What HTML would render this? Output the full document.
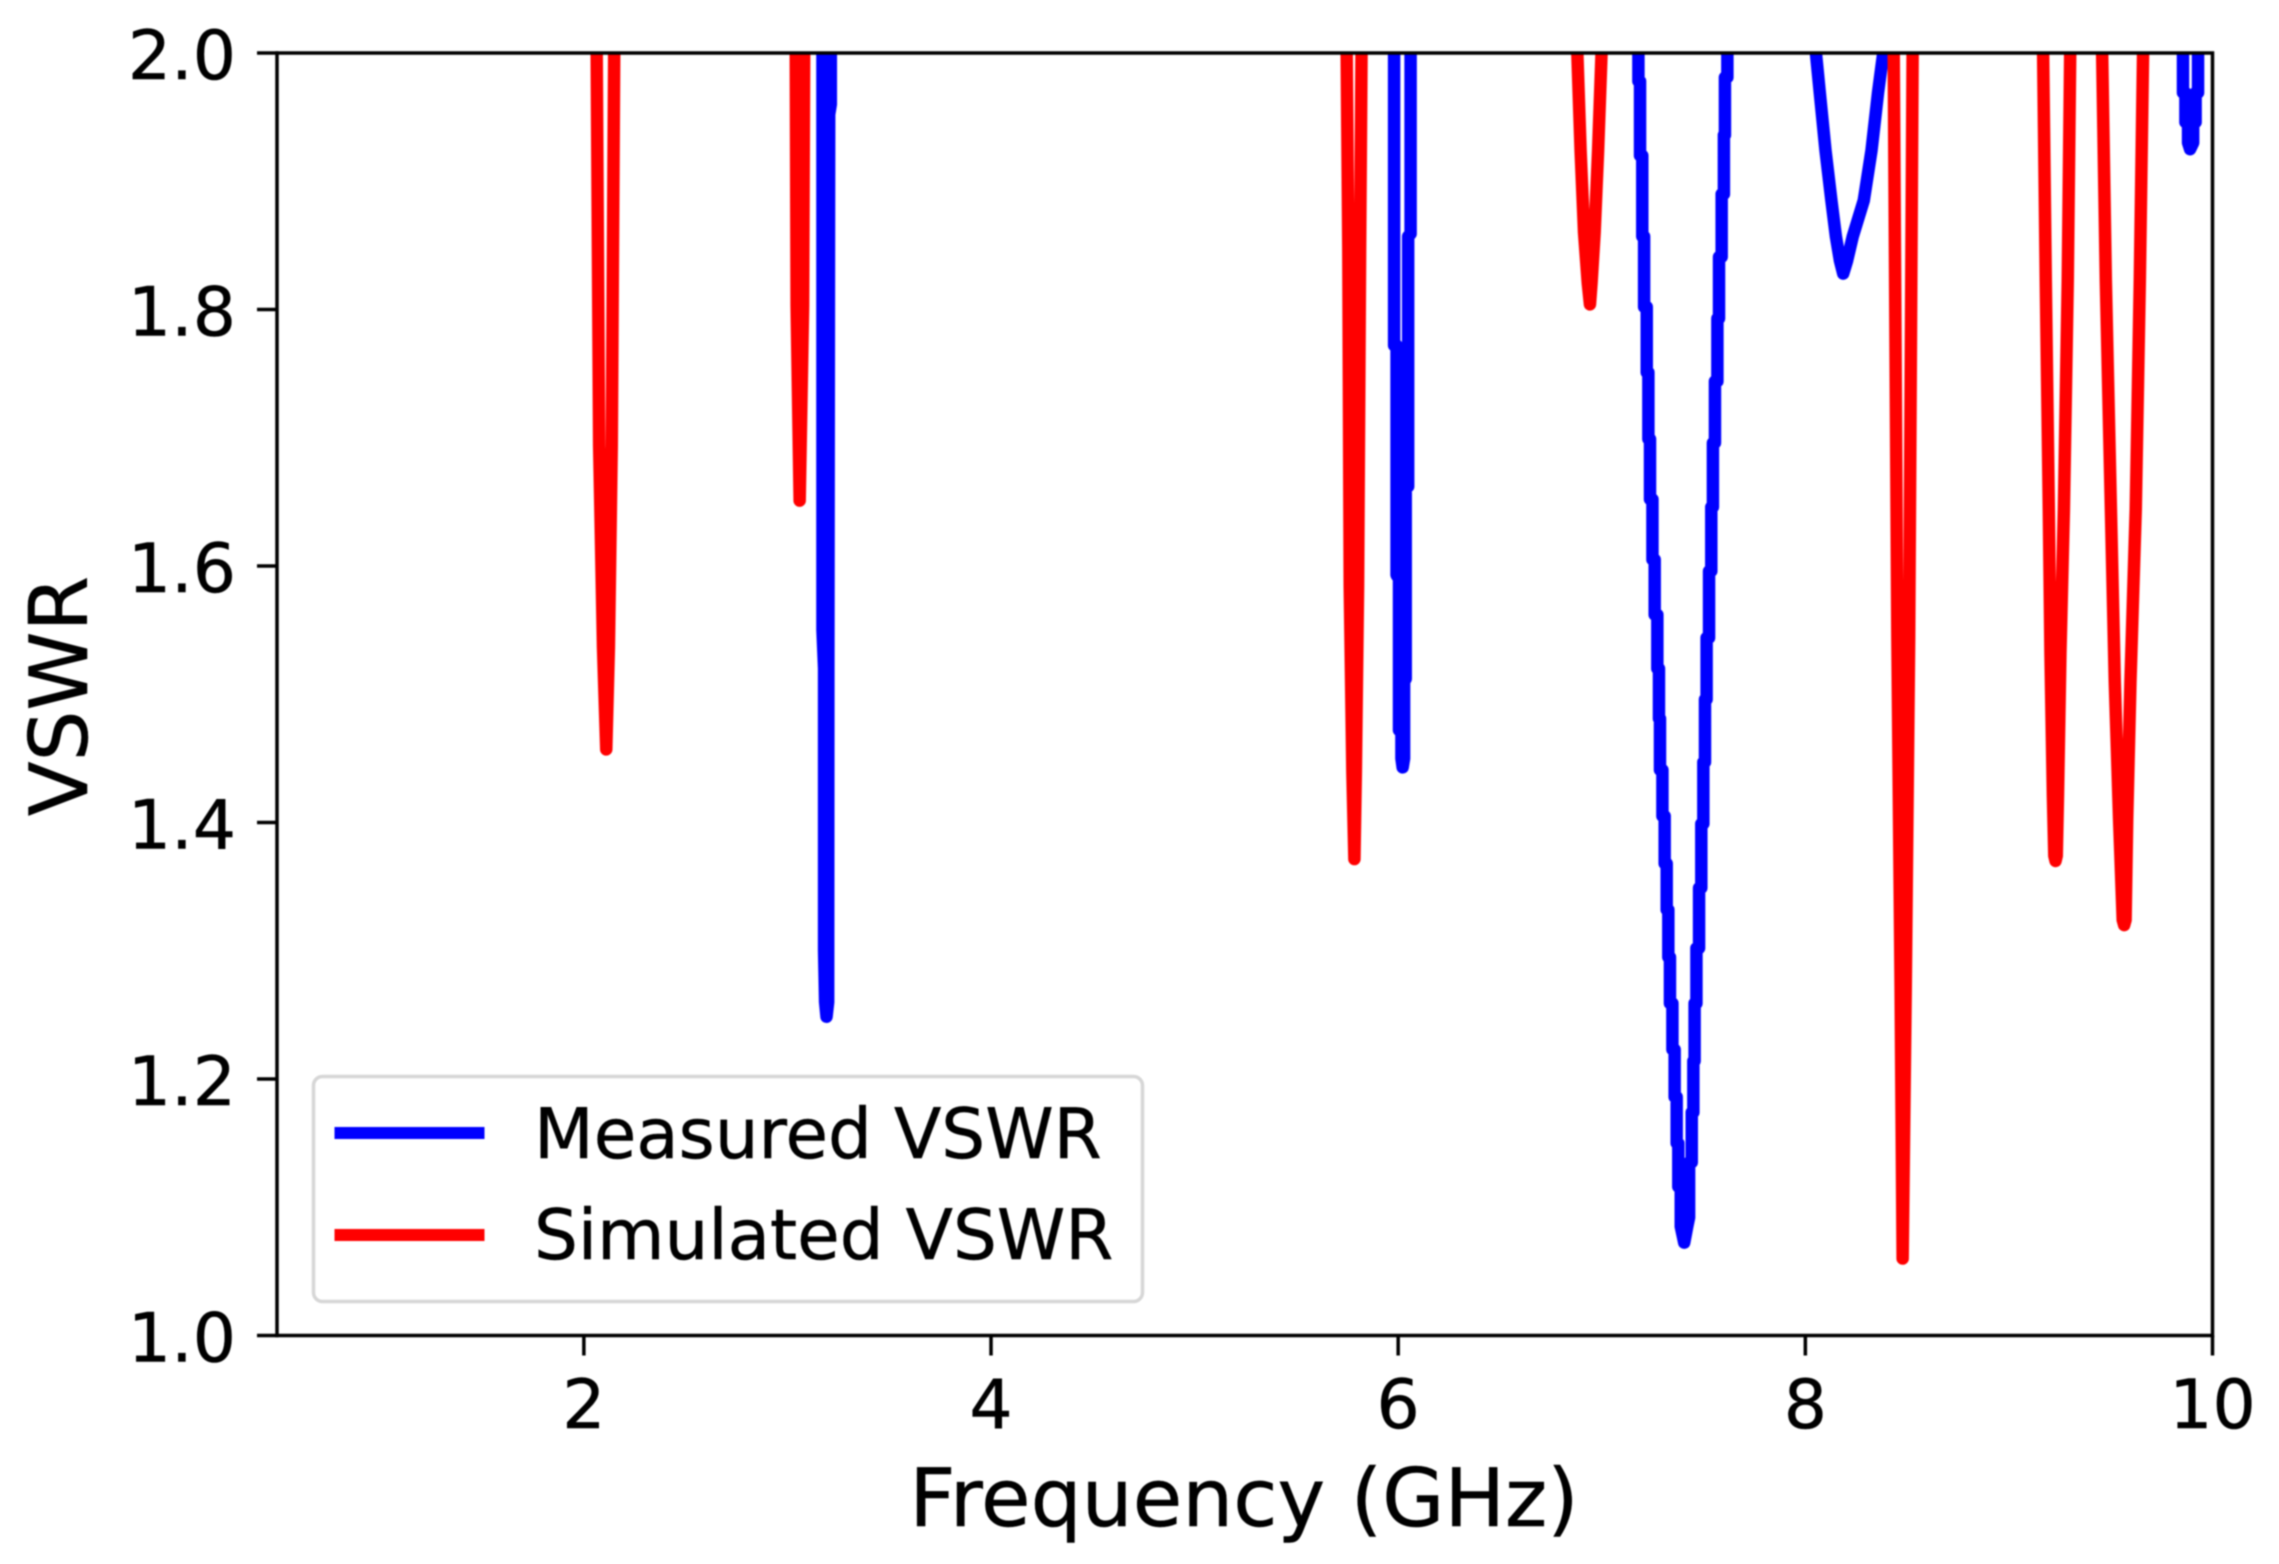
<!DOCTYPE html>
<html lang="en">
<head>
<meta charset="utf-8">
<title>VSWR vs Frequency</title>
<style>
  html, body { margin: 0; padding: 0; background: #fff; }
  body { width: 2279px; height: 1564px; overflow: hidden; }
  svg { display: block; font-family: "DejaVu Sans", "Liberation Sans", sans-serif; filter: blur(0.7px); }
  text { stroke: #000; stroke-width: 0.5px; }
</style>
</head>
<body>
<svg id="chart" xmlns="http://www.w3.org/2000/svg" width="2279" height="1564" viewBox="0 0 2279 1564">
  <rect x="0" y="0" width="2279" height="1564" fill="#ffffff"/>
  <defs>
    <clipPath id="plot-clip"><rect x="278.5" y="53" width="1934" height="1282.5"/></clipPath>
  </defs>
  <g id="series" clip-path="url(#plot-clip)"></g>
  <g id="axes"></g>
  <text x="1244" y="1526" font-size="80.5" text-anchor="middle" fill="#000">Frequency (GHz)</text>
  <text x="0" y="0" transform="translate(87 696) rotate(-90)" font-size="80" text-anchor="middle" fill="#000">VSWR</text>
  <g>
    <rect x="313.5" y="1076.5" width="829" height="225" rx="9" ry="9" fill="#ffffff" fill-opacity="0.8" stroke="#d6d6d6" stroke-width="3.5"/>
    <line x1="334.5" y1="1133" x2="484.5" y2="1133" stroke="#0000ff" stroke-width="12"/>
    <text x="534" y="1158" font-size="69.2" fill="#000">Measured VSWR</text>
    <line x1="334.5" y1="1235" x2="484.5" y2="1235" stroke="#ff0000" stroke-width="12"/>
    <text x="534" y="1259" font-size="69.2" fill="#000">Simulated VSWR</text>
  </g>
</svg>
<script>
const xTicks = [2, 4, 6, 8, 10];
const xTickLabels = ["2", "4", "6", "8", "10"];
const yTicks = [1.0, 1.2, 1.4, 1.6, 1.8, 2.0];
const yTickLabels = ["1.0", "1.2", "1.4", "1.6", "1.8", "2.0"];

const measuredFreq = [
  0.5, 3.168, 3.172, 3.172, 3.180, 3.180, 3.185, 3.192, 3.200, 3.201, 3.205, 3.213, 3.213, 3.218,
  5.975, 5.980, 5.980, 5.992, 5.992, 6.004, 6.004, 6.016, 6.016, 6.022, 6.029, 6.029, 6.037, 6.037, 6.049, 6.049, 6.061, 6.061, 6.065,
  7.175, 7.180, 7.180, 7.188, 7.188, 7.199, 7.199, 7.208, 7.208, 7.221, 7.221, 7.229, 7.229, 7.237, 7.237, 7.249, 7.249, 7.260, 7.260, 7.273, 7.273, 7.281, 7.281, 7.286, 7.286, 7.298, 7.298, 7.309, 7.309, 7.319, 7.319, 7.327, 7.327, 7.335, 7.335, 7.347, 7.347, 7.358, 7.358, 7.368, 7.368, 7.376, 7.376, 7.388, 7.388,
  7.405,
  7.420, 7.429, 7.429, 7.442, 7.442, 7.450, 7.450, 7.456, 7.456, 7.465, 7.465, 7.478, 7.478, 7.489, 7.489, 7.499, 7.499, 7.507, 7.507, 7.515, 7.515, 7.527, 7.527, 7.538, 7.538, 7.546, 7.546, 7.556, 7.556, 7.568, 7.568, 7.576, 7.576, 7.589, 7.589, 7.600, 7.600, 7.605, 7.605, 7.617, 7.617, 7.62,
  8.045, 8.052, 8.071, 8.099, 8.128, 8.150, 8.170, 8.186, 8.205, 8.233, 8.287, 8.325, 8.357, 8.381, 8.39,
  9.85, 9.855, 9.855, 9.867, 9.867, 9.880, 9.880, 9.890, 9.905, 9.905, 9.917, 9.917, 9.929, 9.929, 9.935, 10
];
const measuredVswr = [
  2.5, 2.15, 2.0, 1.55, 1.52, 1.30, 1.26, 1.2485, 1.26, 1.52, 1.952, 1.96, 2.0, 2.15,
  2.15, 2.0, 1.772, 1.772, 1.593, 1.59, 1.472, 1.47, 1.45, 1.443, 1.45, 1.510, 1.512, 1.660, 1.662, 1.857, 1.859, 2.0, 2.15,
  2.15, 2.0, 1.978, 1.978, 1.920, 1.920, 1.857, 1.857, 1.802, 1.802, 1.751, 1.751, 1.699, 1.699, 1.652, 1.652, 1.605, 1.605, 1.562, 1.562, 1.520, 1.520, 1.481, 1.481, 1.441, 1.441, 1.405, 1.405, 1.368, 1.368, 1.332, 1.332, 1.295, 1.295, 1.259, 1.259, 1.223, 1.223, 1.186, 1.186, 1.150, 1.150, 1.116, 1.116, 1.085,
  1.0724,
  1.085, 1.092, 1.135, 1.135, 1.174, 1.174, 1.214, 1.214, 1.259, 1.259, 1.302, 1.302, 1.349, 1.349, 1.399, 1.399, 1.447, 1.447, 1.496, 1.496, 1.544, 1.544, 1.596, 1.596, 1.646, 1.646, 1.696, 1.696, 1.744, 1.744, 1.793, 1.793, 1.841, 1.841, 1.890, 1.890, 1.936, 1.936, 1.981, 1.981, 2.0, 2.15,
  2.15, 2.0, 1.969, 1.924, 1.885, 1.857, 1.838, 1.828, 1.838, 1.857, 1.885, 1.924, 1.969, 1.998, 2.15,
  2.15, 2.0, 1.969, 1.969, 1.946, 1.946, 1.93, 1.925, 1.93, 1.946, 1.946, 1.969, 1.969, 2.0, 2.15, 2.5
];

const simulatedFreq = [
  0.5, 2.058, 2.063, 2.075, 2.094, 2.110, 2.123, 2.137, 2.149, 2.155,
  3.035, 3.041, 3.045, 3.060, 3.077, 3.082, 3.09,
  5.74, 5.747, 5.755, 5.762, 5.775, 5.785, 5.792, 5.803, 5.813, 5.820, 5.83,
  6.87, 6.880, 6.896, 6.913, 6.931, 6.942, 6.950, 6.965, 6.982, 6.999, 7.01,
  8.42, 8.434, 8.452, 8.468, 8.478, 8.493, 8.510, 8.527, 8.54,
  9.16, 9.168, 9.181, 9.196, 9.204, 9.216, 9.223, 9.229, 9.235, 9.241, 9.253, 9.270, 9.289, 9.301, 9.31,
  9.45, 9.458, 9.476, 9.501, 9.520, 9.541, 9.559, 9.566, 9.573, 9.581, 9.597, 9.623, 9.643, 9.659, 9.67, 10
];
const simulatedVswr = [
  2.5, 2.15, 2.0, 1.694, 1.537, 1.457, 1.537, 1.694, 2.0, 2.15,
  2.15, 2.0, 1.803, 1.651, 1.803, 2.0, 2.15,
  2.15, 2.0, 1.848, 1.585, 1.439, 1.3715, 1.439, 1.585, 1.848, 2.0, 2.15,
  2.15, 2.0, 1.924, 1.860, 1.821, 1.804, 1.821, 1.860, 1.924, 2.0, 2.15,
  2.15, 2.0, 1.544, 1.269, 1.060, 1.269, 1.544, 2.0, 2.15,
  2.15, 2.0, 1.823, 1.644, 1.532, 1.421, 1.374, 1.370, 1.374, 1.421, 1.532, 1.644, 1.823, 2.0, 2.15,
  2.15, 2.0, 1.823, 1.644, 1.510, 1.403, 1.324, 1.320, 1.324, 1.403, 1.510, 1.644, 1.823, 2.0, 2.15, 2.5
];

const SVG_NS = "http://www.w3.org/2000/svg";
const plot = { left: 278.5, right: 2212.5, top: 53, bottom: 1335.5 };
const xDomain = [0.5, 10];
const yDomain = [1, 2];

function xScale(f) {
  return plot.left + (f - xDomain[0]) / (xDomain[1] - xDomain[0]) * (plot.right - plot.left);
}
function yScale(v) {
  return plot.bottom - (v - yDomain[0]) / (yDomain[1] - yDomain[0]) * (plot.bottom - plot.top);
}
function linePath(xs, ys) {
  return xs.map(function (f, i) {
    return (i ? "L" : "M") + xScale(f).toFixed(2) + " " + yScale(ys[i]).toFixed(2);
  }).join(" ");
}
function make(tag, attrs) {
  const el = document.createElementNS(SVG_NS, tag);
  Object.keys(attrs).forEach(function (k) { el.setAttribute(k, attrs[k]); });
  return el;
}

const seriesGroup = document.getElementById("series");
const axesGroup = document.getElementById("axes");

const measuredLine = make("path", { d: linePath(measuredFreq, measuredVswr), fill: "none", stroke: "#0000ff", "stroke-width": 12.5, "stroke-linejoin": "round", "stroke-linecap": "round" });


seriesGroup.appendChild(measuredLine);

const simulatedLine = make("path", { d: linePath(simulatedFreq, simulatedVswr), fill: "none", stroke: "#ff0000", "stroke-width": 12.5, "stroke-linejoin": "round", "stroke-linecap": "round" });


seriesGroup.appendChild(simulatedLine);

const frame = make("rect", { x: plot.left - 1.5, y: plot.top, width: plot.right - plot.left + 1.5, height: plot.bottom - plot.top, fill: "none", stroke: "#000", "stroke-width": 3.5 });


axesGroup.appendChild(frame);

xTicks.forEach(function (t, i) {
  const x = xScale(t);
  const mark = make("line", { x1: x, x2: x, y1: plot.bottom, y2: plot.bottom + 20, stroke: "#000", "stroke-width": 3.5 });
  
  
  axesGroup.appendChild(mark);
  const label = make("text", { x: x, y: 1428, "font-size": 68, "text-anchor": "middle", fill: "#000" });
  
  
  label.textContent = xTickLabels[i];
  axesGroup.appendChild(label);
});

yTicks.forEach(function (t, i) {
  const y = yScale(t);
  const mark = make("line", { x1: plot.left - 21.5, x2: plot.left, y1: y, y2: y, stroke: "#000", "stroke-width": 3.5 });
  
  
  axesGroup.appendChild(mark);
  const label = make("text", { x: 236, y: y + 26, "font-size": 68, "text-anchor": "end", fill: "#000" });
  
  
  label.textContent = yTickLabels[i];
  axesGroup.appendChild(label);
});
</script>
</body>
</html>
